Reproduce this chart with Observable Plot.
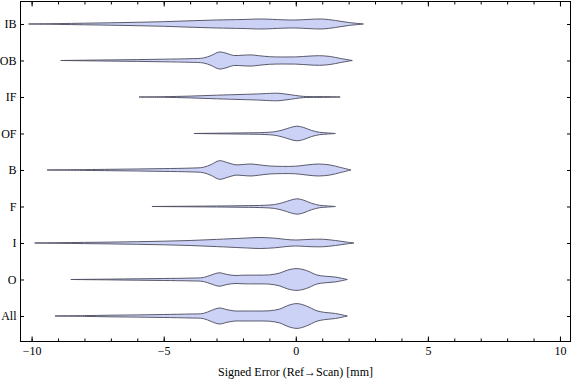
<!DOCTYPE html>
<html><head><meta charset="utf-8">
<script src="https://cdn.jsdelivr.net/npm/d3@7"></script>
<script src="https://cdn.jsdelivr.net/npm/@observablehq/plot@0.6"></script>
<style>body{margin:0;background:#fff} svg{display:block}</style>
</head><body><div id="chart"></div>
<script>
// Categories, bottom to top
const categories = ["All", "O", "I", "F", "B", "OF", "IF", "OB", "IB"];

// Violin profiles: [signed error (mm), relative density (half-width)]
const IB = [[-10.1,0],[-9,0.4],[-8,0.8],[-7,1.2],[-6,1.7],[-5,2.3],[-4,3.2],[-3,4.0],[-2,4.5],[-1.3,5.0],[-0.5,4.2],[0,4.0],[0.5,4.6],[1.0,5.0],[1.5,3.5],[2.0,1.5],[2.56,0]];
const OB = [[-8.88,0],[-8,0.3],[-7,0.6],[-6,0.9],[-5,1.3],[-4,1.8],[-3.5,2.5],[-3.2,5],[-2.9,8.5],[-2.6,7],[-2.35,5.0],[-2.0,5.3],[-1.7,5.6],[-1.4,4.8],[-1.0,3.8],[-0.5,3.5],[0,3.6],[0.5,4.4],[0.9,4.8],[1.3,4.0],[1.7,2.0],[2.14,0]];
const IF = [[-5.92,0],[-5,0.3],[-4,0.9],[-3,1.8],[-2,2.6],[-1.5,3.0],[-1.0,3.6],[-0.7,3.8],[-0.4,3.0],[0,1.5],[0.3,0.6],[0.8,0.4],[1.3,0.3],[1.68,0]];
const OF = [[-3.84,0],[-3,0.3],[-2,0.6],[-1.2,1.0],[-0.8,1.8],[-0.5,3.5],[-0.2,6.0],[0.05,7.3],[0.3,6.0],[0.6,3.0],[0.9,1.2],[1.2,0.6],[1.5,0]];
const B = [[-9.4,0],[-8,0.4],[-7,0.7],[-6,1.0],[-5,1.4],[-4,1.9],[-3.5,2.7],[-3.2,5.5],[-2.9,9.3],[-2.6,7.5],[-2.3,5.2],[-2.0,5.5],[-1.7,6.0],[-1.4,5.2],[-1.0,4.0],[-0.5,3.6],[0,3.8],[0.4,5.0],[0.85,6.0],[1.3,5.0],[1.7,2.5],[2.09,0]];
const F = [[-5.43,0],[-4,0.3],[-3,0.5],[-2,0.8],[-1.2,1.2],[-0.8,2.0],[-0.5,3.8],[-0.2,6.3],[0.05,7.7],[0.3,6.3],[0.6,3.2],[0.9,1.2],[1.2,0.6],[1.5,0]];
const I = [[-9.87,0],[-9,0.3],[-8,0.6],[-7,0.9],[-6,1.3],[-5,1.8],[-4,2.5],[-3,3.6],[-2,4.8],[-1.35,5.5],[-0.8,4.8],[-0.3,3.4],[0,3.0],[0.5,3.6],[1.0,3.8],[1.5,2.5],[1.9,1.0],[2.2,0]];
const O = [[-8.5,0],[-7,0.4],[-6,0.7],[-5,1.0],[-4,1.4],[-3.5,2.0],[-3.2,4.5],[-2.9,6.7],[-2.6,5.0],[-2.3,4.0],[-2.0,4.3],[-1.5,4.4],[-1.0,4.6],[-0.6,6.5],[-0.3,9.5],[0.05,10.9],[0.4,9.0],[0.8,4.5],[1.1,3.3],[1.5,2.4],[1.95,0]];
const All = [[-9.1,0],[-8,0.4],[-7,0.8],[-6,1.1],[-5,1.5],[-4,2.0],[-3.5,2.6],[-3.2,5.5],[-2.9,8.0],[-2.6,6.3],[-2.3,5.0],[-2.0,5.0],[-1.5,5.0],[-1.0,5.2],[-0.6,7.0],[-0.3,10.5],[0.05,12.4],[0.4,10.0],[0.8,5.2],[1.1,3.6],[1.5,2.5],[1.95,0]];

const profiles = {All, O, I, F, B, OF, IF, OB, IB};
const xMajorTicks = [-10, -5, 0, 5, 10];
const xMinorTicks = [-10,-9,-8,-7,-6,-5,-4,-3,-2,-1,0,1,2,3,4,5,6,7,8,9,10];
const xLabel = "Signed Error (Ref\u2192Scan) [mm]";

// density -> category-band units
const k = 1 / 36.5;
const rows = [];
categories.forEach((c, i) => {
  for (const [x, w] of profiles[c]) rows.push({cat: c, x, y1: i - w * k, y2: i + w * k});
});
const catIdx = categories.map((c, i) => i);

const chart = Plot.plot({
  width: 576, height: 381,
  marginLeft: 20, marginRight: 6, marginTop: 1, marginBottom: 40,
  style: {fontFamily: "'Liberation Serif', 'DejaVu Serif', serif", fontSize: "12px", color: "black", background: "white"},
  x: {domain: [-10.44, 10.38]},
  y: {domain: [-0.685, 8.63]},
  marks: [
    Plot.areaY(rows, {x: "x", y1: "y1", y2: "y2", z: "cat", fill: "#ccd2f6", stroke: "#4a4a5c", strokeWidth: 0.9, curve: "catmull-rom"}),
    Plot.frame({stroke: "black", strokeWidth: 1}),
    Plot.axisX(xMinorTicks, {anchor: "bottom", tickSize: -2.5, tickFormat: () => "", label: null}),
    Plot.axisX(xMinorTicks, {anchor: "top", tickSize: -2.5, tickFormat: () => "", label: null}),
    Plot.axisX(xMajorTicks, {anchor: "bottom", tickSize: -4.5, tickFormat: () => "", label: null}),
    Plot.axisX(xMajorTicks, {anchor: "top", tickSize: -4.5, tickFormat: () => "", label: null}),
    Plot.axisX(xMajorTicks, {anchor: "bottom", tickSize: 0, tickPadding: 5, label: xLabel, labelAnchor: "center", labelOffset: 34, labelArrow: "none"}),
    Plot.axisY(catIdx, {anchor: "left", tickSize: -4, tickFormat: () => "", label: null}),
    Plot.axisY(catIdx, {anchor: "right", tickSize: -4, tickFormat: () => "", label: null}),
    Plot.axisY(catIdx, {anchor: "left", tickSize: 0, tickPadding: 4, tickFormat: i => categories[i], label: null})
  ]
});
document.getElementById("chart").appendChild(chart);
</script>
</body></html>
